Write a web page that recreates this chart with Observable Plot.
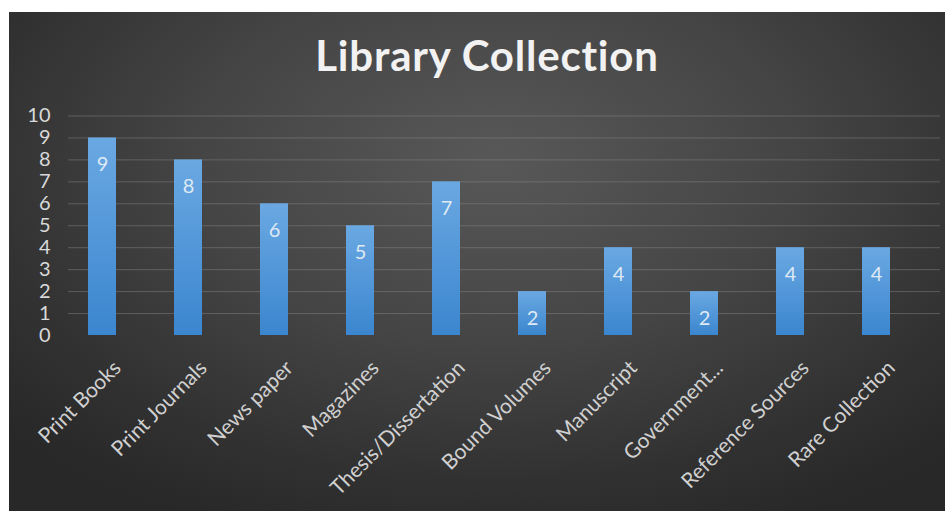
<!DOCTYPE html>
<html>
<head>
<meta charset="utf-8">
<script src="https://cdn.jsdelivr.net/npm/d3@7"></script>
<script src="https://cdn.jsdelivr.net/npm/@observablehq/plot@0.6"></script>
<style>
  html, body { margin: 0; padding: 0; background: #ffffff; width: 945px; height: 511px; overflow: hidden; }
  #bg {
    position: absolute; left: 9px; top: 12px; width: 936px; height: 499px;
    background: radial-gradient(ellipse 70% 80% at 52% 30%, #585858 0%, #454545 45%, #313131 80%, #282828 100%);
  }
  #title {
    position: absolute; left: 0; top: 30px; width: 974px; text-align: center;
    font-family: Lato, sans-serif; font-weight: bold; font-size: 42px; color: #f2f2f2;
    letter-spacing: 0.8px;
  }
  #chart { position: absolute; left: 0; top: 100px; }
</style>
</head>
<body>
<div id="bg"></div>
<div id="title">Library Collection</div>
<div id="chart"></div>
<script>
const categories = ["Print Books", "Print Journals", "News paper", "Magazines", "Thesis/Dissertation",
  "Bound Volumes", "Manuscript", "Government...", "Reference Sources", "Rare Collection"];
const values = [9, 8, 6, 5, 7, 2, 4, 2, 4, 4];
const yTicks = [0, 1, 2, 3, 4, 5, 6, 7, 8, 9, 10];

const data = categories.map((c, i) => ({category: c, value: values[i]}));

const chart = Plot.plot({
  width: 945,
  height: 411,
  marginTop: 15.5,
  marginBottom: 176,
  marginLeft: 68,
  marginRight: 5,
  style: {background: "transparent", fontFamily: "Lato, sans-serif", overflow: "visible"},
  x: {domain: categories, range: [54.5, 923.5], paddingInner: 0.678, paddingOuter: 0.339, label: null},
  y: {domain: [0, 10], label: null},
  marks: [
    Plot.gridY(yTicks.filter(d => d > 0), {stroke: "#8c8c8c", strokeOpacity: 0.45, strokeWidth: 1}),
    Plot.barY(data, {x: "category", y: "value", fill: "url(#barGrad)",
      style: "filter: drop-shadow(0px 0px 3px rgba(0,0,0,0.75))"}),
    Plot.ruleY([0], {stroke: "#c4c4c4", strokeWidth: 2.5, x1: () => 72, x2: () => 940}),
    Plot.text(data, {x: "category", y: "value", text: d => String(d.value), dy: 27,
      fill: "#dfe9f4", fontSize: 20, lineAnchor: "middle"}),
    Plot.axisY({ticks: yTicks, tickSize: 0, tickPadding: 18, fill: "#d9d9d9", fontSize: 20, label: null}),
    Plot.axisX({tickSize: 0, tickPadding: 0, tickRotate: -45, textAnchor: "end", lineAnchor: "middle",
      dx: 15, dy: 29, fill: "#d0d0d0", fontSize: 21, label: null})
  ]
});

const svg = d3.select(chart);
const defs = svg.insert("defs", ":first-child");
const g = defs.append("linearGradient").attr("id", "barGrad").attr("x1", 0).attr("y1", 0).attr("x2", 0).attr("y2", 1);
g.append("stop").attr("offset", "0%").attr("stop-color", "#6aa8e2");
g.append("stop").attr("offset", "100%").attr("stop-color", "#3b86cf");

document.getElementById("chart").appendChild(chart);
</script>
</body>
</html>
